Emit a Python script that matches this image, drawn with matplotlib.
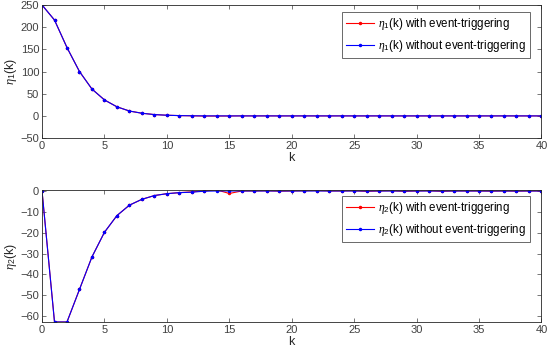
import matplotlib
matplotlib.use("Agg")
import matplotlib.pyplot as plt
import numpy as np

k = list(range(0, 41))

eta1_without = [250, 216, 154, 100, 60.5, 36, 20.5, 11, 6, 3, 1.5, 0.7, 0.3, 0.1,
                0.05] + [0.0] * 26
eta1_with = [250, 216, 154, 100, 60.5, 36, 20.5, 11, 6, 3, 1.5, 0.7, 0.2, -0.4,
             -0.3, -0.2, 0.1, 0.0, 0.1, 0.0, 0.0, 0.1, 0.0, 0.0, 0.1, 0.0, 0.0, 0.1,
             0.0, 0.0, 0.0, 0.0, 0.1, 0.0, 0.0, 0.0, 0.0, 0.1, 0.0, 0.0, 0.0]

eta2_without = [0, -62.8, -62.8, -47.2, -31.6, -19.8, -11.8, -6.8, -4.0, -2.2, -1.3,
                -0.8, -0.6, -0.1, 0.0] + [0.0] * 26
eta2_with = [0, -62.8, -62.8, -47.2, -31.6, -19.8, -11.8, -6.8, -4.0, -2.2, -1.3,
             -0.8, -0.4, 0.0, 0.5, -1.2, 0.0, 0.0, 0.1, -0.1, 0.0, 0.1, 0.2, 0.0, 0.0,
             0.1, -0.2, 0.0, 0.1, -0.2, 0.0, 0.1, -0.2, 0.0, 0.0, 0.0, -0.1, 0.0, -0.1,
             0.0, 0.0]

plt.rcParams['font.family'] = ['Liberation Sans', 'DejaVu Sans']
plt.rcParams['mathtext.fontset'] = 'custom'
plt.rcParams['mathtext.it'] = 'Liberation Serif:italic'
plt.rcParams['mathtext.rm'] = 'Liberation Sans'

fig = plt.figure(figsize=(5.5, 3.55), dpi=100)
ax1 = fig.add_axes([0.0764, 0.611, 0.908, 0.375])
ax2 = fig.add_axes([0.0764, 0.093, 0.908, 0.372])

grey = '#262626'
tick_grey = '#404040'

def style(ax):
    for s in ax.spines.values():
        s.set_color('#262626')
        s.set_linewidth(0.6)
    ax.tick_params(direction='in', length=3, width=0.5, colors=tick_grey,
                   labelsize=8, top=True, right=True, labeltop=False, labelright=False,
                   pad=2)
    ax.set_xlim(0, 40)
    ax.set_xticks(range(0, 41, 5))

def legend(ax, anchor):
    leg = ax.legend(loc='upper right', fontsize=8.3, frameon=True, fancybox=False,
                    edgecolor='#262626', borderpad=0.35, labelspacing=0.55,
                    handlelength=2.5, handletextpad=0.35, borderaxespad=0,
                    bbox_to_anchor=anchor)
    leg.get_frame().set_linewidth(0.6)

ax1.plot(k, eta1_with, color='red', lw=0.8, marker='.', ms=3,
         label=r'$\eta_1$(k) with event-triggering')
ax1.plot(k, eta1_without, color='blue', lw=0.8, marker='.', ms=3,
         label=r'$\eta_1$(k) without event-triggering')
style(ax1)
ax1.set_ylim(-50, 250)
ax1.set_yticks(range(-50, 251, 50))
ax1.set_xlabel('k', fontsize=9, color=grey, labelpad=1)
ax1.set_ylabel(r'$\eta_1$(k)', fontsize=9, color=grey, labelpad=1)
legend(ax1, (0.978, 0.95))

ax2.plot(k, eta2_with, color='red', lw=0.8, marker='.', ms=3,
         label=r'$\eta_2$(k) with event-triggering')
ax2.plot(k, eta2_without, color='blue', lw=0.8, marker='.', ms=3,
         label=r'$\eta_2$(k) without event-triggering')
style(ax2)
ax2.set_ylim(-62.8, 0.5)
ax2.set_yticks(range(-60, 1, 10))
ax2.set_xlabel('k', fontsize=9, color=grey, labelpad=1)
ax2.set_ylabel(r'$\eta_2$(k)', fontsize=9, color=grey, labelpad=1)
legend(ax2, (0.978, 0.955))

fig.savefig('out.png', dpi=100)
